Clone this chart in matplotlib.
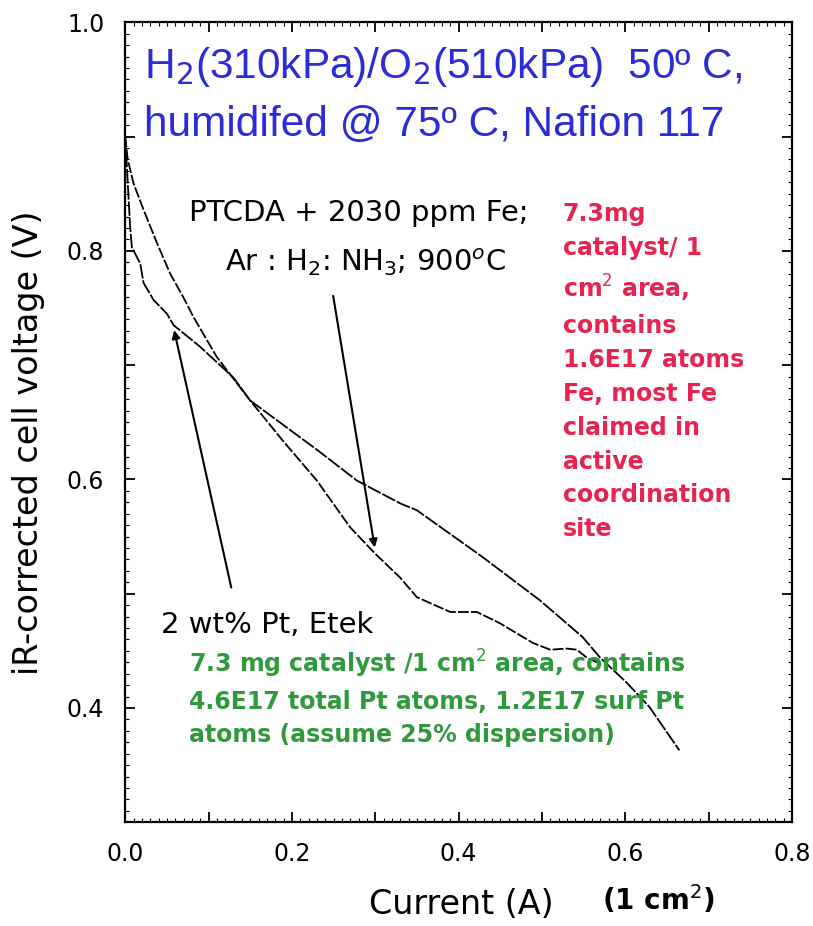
import numpy as np
import matplotlib
matplotlib.use("Agg")
import matplotlib.pyplot as plt
from matplotlib.ticker import MultipleLocator, FuncFormatter

plt.rcParams["font.family"] = ["DejaVu Sans"]

# PTCDA + 2030 ppm Fe (Ar:H2:NH3, 900 C) polarization curve
fe_current = [0.0, 0.003, 0.010, 0.022, 0.038, 0.054, 0.070, 0.082, 0.110,
              0.150, 0.189, 0.230, 0.270, 0.300, 0.330, 0.350, 0.390, 0.422,
              0.450, 0.489, 0.510, 0.530, 0.542, 0.554, 0.566]
fe_voltage = [0.900, 0.880, 0.859, 0.836, 0.807, 0.780, 0.759, 0.742, 0.707,
              0.669, 0.634, 0.599, 0.558, 0.535, 0.514, 0.497, 0.484, 0.484,
              0.474, 0.457, 0.451, 0.452, 0.451, 0.444, 0.440]

# 2 wt% Pt, Etek polarization curve
pt_current = [0.0, 0.003, 0.006, 0.008, 0.018, 0.022, 0.034, 0.050, 0.058,
              0.090, 0.130, 0.150, 0.230, 0.278, 0.330, 0.350, 0.429, 0.498,
              0.549, 0.570, 0.602, 0.629, 0.665]
pt_voltage = [0.900, 0.860, 0.820, 0.803, 0.789, 0.772, 0.757, 0.745, 0.735,
              0.716, 0.689, 0.669, 0.626, 0.599, 0.579, 0.573, 0.532, 0.494,
              0.462, 0.444, 0.422, 0.401, 0.363]

# arrows from labels to curves: (tail x, tail y, head x, head y)
fe_arrow = (0.249, 0.763, 0.300, 0.538)
pt_arrow = (0.128, 0.503, 0.058, 0.733)

x_ticks = [0.0, 0.2, 0.4, 0.6, 0.8]
y_ticks = [0.4, 0.6, 0.8, 1.0]

fig = plt.figure(figsize=(8.13, 9.26), dpi=100)
ax = fig.add_axes([0.154, 0.112, 0.820, 0.864])

ax.plot(fe_current, fe_voltage, color="black", lw=1.3, ls=(0, (6, 1.2)))
ax.plot(pt_current, pt_voltage, color="black", lw=1.3, ls=(0, (8, 1)))

for tx, ty, hx, hy in (fe_arrow, pt_arrow):
    ax.annotate("", xy=(hx, hy), xytext=(tx, ty),
                arrowprops=dict(arrowstyle="-|>", color="black", lw=1.5,
                                mutation_scale=12))

ax.set_xlim(0, 0.8)
ax.set_ylim(0.3, 1.0)
ax.xaxis.set_major_locator(MultipleLocator(0.1))
ax.yaxis.set_major_locator(MultipleLocator(0.1))
ax.xaxis.set_minor_locator(MultipleLocator(0.01))
ax.yaxis.set_minor_locator(MultipleLocator(0.01))

def even_only(ticks):
    return FuncFormatter(lambda v, _: f"{v:.1f}" if any(abs(v - t) < 1e-6 for t in ticks) else "")

ax.xaxis.set_major_formatter(even_only(x_ticks))
ax.yaxis.set_major_formatter(even_only(y_ticks))
ax.tick_params(which="both", direction="in", top=True, right=True, labelsize=17)
ax.tick_params(which="major", length=7, width=1.3)
ax.tick_params(which="minor", length=3, width=0.8)
ax.tick_params(axis="x", pad=14)
ax.tick_params(axis="y", pad=15)
for s in ax.spines.values():
    s.set_linewidth(1.6)

ax.set_ylabel("iR-corrected cell voltage (V)", fontsize=24)
ax.yaxis.set_label_coords(-0.12, 0.474)
fig.text(0.568, 0.023, "Current (A)", fontsize=24, ha="center", va="center")
fig.text(0.81, 0.029, "(1 cm$^2$)", fontsize=20, fontweight="bold",
         ha="center", va="center")

blue = "#2b2bd9"
ax.text(0.028, 0.944, "H$_2$(310kPa)/O$_2$(510kPa)  50º C,", transform=ax.transAxes,
        fontsize=30.5, color=blue, va="center", ha="left", family="Liberation Sans")
ax.text(0.028, 0.871, "humidifed @ 75º C, Nafion 117", transform=ax.transAxes,
        fontsize=30.5, color=blue, va="center", ha="left", family="Liberation Sans")

ax.text(0.095, 0.761, "PTCDA + 2030 ppm Fe;", transform=ax.transAxes,
        fontsize=21, va="center", ha="left")
ax.text(0.150, 0.700, "Ar : H$_2$: NH$_3$; 900$^o$C", transform=ax.transAxes,
        fontsize=21, va="center", ha="left")
ax.text(0.053, 0.246, "2 wt% Pt, Etek", transform=ax.transAxes,
        fontsize=21, va="center", ha="left")

red_lines = ["7.3mg", "catalyst/ 1", "cm$^2$ area,", "contains", "1.6E17 atoms",
             "Fe, most Fe", "claimed in", "active", "coordination", "site"]
ax.text(0.656, 0.775, "\n".join(red_lines), transform=ax.transAxes,
        fontsize=17, fontweight="bold", color="#e8234f", va="top", ha="left",
        linespacing=1.52)

green_lines = ["7.3 mg catalyst /1 cm$^2$ area, contains",
               "4.6E17 total Pt atoms, 1.2E17 surf Pt",
               "atoms (assume 25% dispersion)"]
ax.text(0.095, 0.218, "\n".join(green_lines), transform=ax.transAxes,
        fontsize=17, fontweight="bold", color="#2e9a3c", va="top", ha="left",
        linespacing=1.5)

fig.savefig("out.png", dpi=100)
